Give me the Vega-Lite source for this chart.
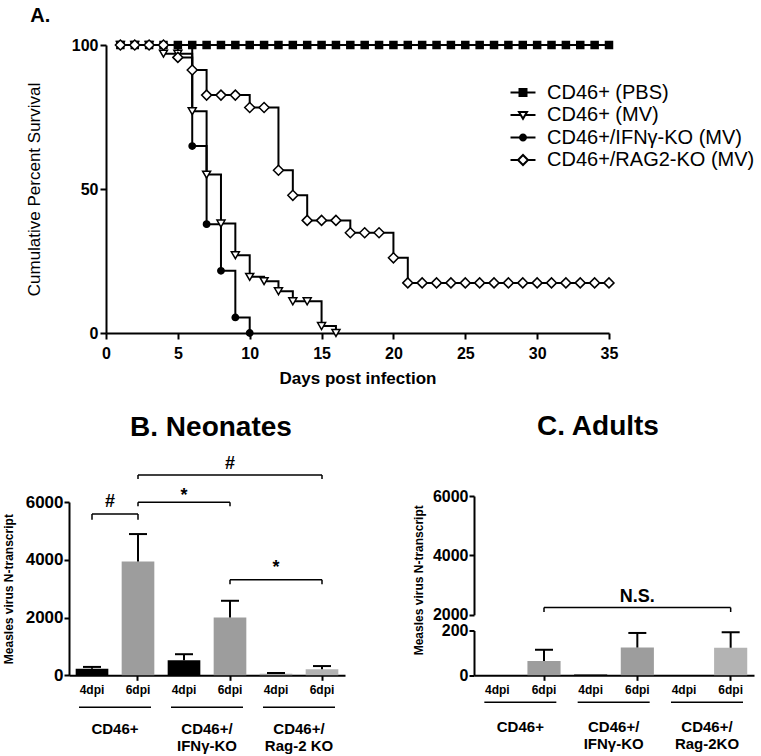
{
"$schema": "https://vega.github.io/schema/vega-lite/v6.json",
"padding": {"left": 2, "top": 6, "right": 0, "bottom": 0},
"config": {
  "font": "Liberation Sans",
  "view": {"stroke": null},
  "axis": {"domainColor": "black", "tickColor": "black", "labelColor": "black", "titleColor": "black", "grid": false, "domainWidth": 2, "tickWidth": 2, "zindex": 1},
  "title": {"color": "black"},
  "text": {"color": "black"}
},
"datasets": {
  "surv": [
    {"group":"CD46+ (PBS)","day":1,"pct":100},{"group":"CD46+ (PBS)","day":2,"pct":100},{"group":"CD46+ (PBS)","day":3,"pct":100},{"group":"CD46+ (PBS)","day":4,"pct":100},{"group":"CD46+ (PBS)","day":5,"pct":100},{"group":"CD46+ (PBS)","day":6,"pct":100},{"group":"CD46+ (PBS)","day":7,"pct":100},{"group":"CD46+ (PBS)","day":8,"pct":100},{"group":"CD46+ (PBS)","day":9,"pct":100},{"group":"CD46+ (PBS)","day":10,"pct":100},{"group":"CD46+ (PBS)","day":11,"pct":100},{"group":"CD46+ (PBS)","day":12,"pct":100},{"group":"CD46+ (PBS)","day":13,"pct":100},{"group":"CD46+ (PBS)","day":14,"pct":100},{"group":"CD46+ (PBS)","day":15,"pct":100},{"group":"CD46+ (PBS)","day":16,"pct":100},{"group":"CD46+ (PBS)","day":17,"pct":100},{"group":"CD46+ (PBS)","day":18,"pct":100},{"group":"CD46+ (PBS)","day":19,"pct":100},{"group":"CD46+ (PBS)","day":20,"pct":100},{"group":"CD46+ (PBS)","day":21,"pct":100},{"group":"CD46+ (PBS)","day":22,"pct":100},{"group":"CD46+ (PBS)","day":23,"pct":100},{"group":"CD46+ (PBS)","day":24,"pct":100},{"group":"CD46+ (PBS)","day":25,"pct":100},{"group":"CD46+ (PBS)","day":26,"pct":100},{"group":"CD46+ (PBS)","day":27,"pct":100},{"group":"CD46+ (PBS)","day":28,"pct":100},{"group":"CD46+ (PBS)","day":29,"pct":100},{"group":"CD46+ (PBS)","day":30,"pct":100},{"group":"CD46+ (PBS)","day":31,"pct":100},{"group":"CD46+ (PBS)","day":32,"pct":100},{"group":"CD46+ (PBS)","day":33,"pct":100},{"group":"CD46+ (PBS)","day":34,"pct":100},{"group":"CD46+ (PBS)","day":35,"pct":100},
    {"group":"CD46+ (MV)","day":1,"pct":100},{"group":"CD46+ (MV)","day":2,"pct":100},{"group":"CD46+ (MV)","day":3,"pct":100},{"group":"CD46+ (MV)","day":4,"pct":97},{"group":"CD46+ (MV)","day":5,"pct":97},{"group":"CD46+ (MV)","day":6,"pct":77},{"group":"CD46+ (MV)","day":7,"pct":55},{"group":"CD46+ (MV)","day":8,"pct":38},{"group":"CD46+ (MV)","day":9,"pct":27},{"group":"CD46+ (MV)","day":10,"pct":19.5},{"group":"CD46+ (MV)","day":11,"pct":18},{"group":"CD46+ (MV)","day":12,"pct":14.5},{"group":"CD46+ (MV)","day":13,"pct":11},{"group":"CD46+ (MV)","day":14,"pct":11},{"group":"CD46+ (MV)","day":15,"pct":2.4},{"group":"CD46+ (MV)","day":16,"pct":0},
    {"group":"CD46+/IFNγ-KO (MV)","day":1,"pct":100},{"group":"CD46+/IFNγ-KO (MV)","day":2,"pct":100},{"group":"CD46+/IFNγ-KO (MV)","day":3,"pct":100},{"group":"CD46+/IFNγ-KO (MV)","day":4,"pct":100},{"group":"CD46+/IFNγ-KO (MV)","day":5,"pct":100},{"group":"CD46+/IFNγ-KO (MV)","day":6,"pct":64.9},{"group":"CD46+/IFNγ-KO (MV)","day":7,"pct":37.8},{"group":"CD46+/IFNγ-KO (MV)","day":8,"pct":21.6},{"group":"CD46+/IFNγ-KO (MV)","day":9,"pct":5.4},{"group":"CD46+/IFNγ-KO (MV)","day":10,"pct":0},
    {"group":"CD46+/RAG2-KO (MV)","day":1,"pct":100},{"group":"CD46+/RAG2-KO (MV)","day":2,"pct":100},{"group":"CD46+/RAG2-KO (MV)","day":3,"pct":100},{"group":"CD46+/RAG2-KO (MV)","day":4,"pct":100},{"group":"CD46+/RAG2-KO (MV)","day":5,"pct":95.7},{"group":"CD46+/RAG2-KO (MV)","day":6,"pct":91.3},{"group":"CD46+/RAG2-KO (MV)","day":7,"pct":82.6},{"group":"CD46+/RAG2-KO (MV)","day":8,"pct":82.6},{"group":"CD46+/RAG2-KO (MV)","day":9,"pct":82.6},{"group":"CD46+/RAG2-KO (MV)","day":10,"pct":78.3},{"group":"CD46+/RAG2-KO (MV)","day":11,"pct":78.3},{"group":"CD46+/RAG2-KO (MV)","day":12,"pct":56.5},{"group":"CD46+/RAG2-KO (MV)","day":13,"pct":47.8},{"group":"CD46+/RAG2-KO (MV)","day":14,"pct":39.1},{"group":"CD46+/RAG2-KO (MV)","day":15,"pct":39.1},{"group":"CD46+/RAG2-KO (MV)","day":16,"pct":39.1},{"group":"CD46+/RAG2-KO (MV)","day":17,"pct":34.8},{"group":"CD46+/RAG2-KO (MV)","day":18,"pct":34.8},{"group":"CD46+/RAG2-KO (MV)","day":19,"pct":34.8},{"group":"CD46+/RAG2-KO (MV)","day":20,"pct":26.1},{"group":"CD46+/RAG2-KO (MV)","day":21,"pct":17.4},{"group":"CD46+/RAG2-KO (MV)","day":22,"pct":17.4},{"group":"CD46+/RAG2-KO (MV)","day":23,"pct":17.4},{"group":"CD46+/RAG2-KO (MV)","day":24,"pct":17.4},{"group":"CD46+/RAG2-KO (MV)","day":25,"pct":17.4},{"group":"CD46+/RAG2-KO (MV)","day":26,"pct":17.4},{"group":"CD46+/RAG2-KO (MV)","day":27,"pct":17.4},{"group":"CD46+/RAG2-KO (MV)","day":28,"pct":17.4},{"group":"CD46+/RAG2-KO (MV)","day":29,"pct":17.4},{"group":"CD46+/RAG2-KO (MV)","day":30,"pct":17.4},{"group":"CD46+/RAG2-KO (MV)","day":31,"pct":17.4},{"group":"CD46+/RAG2-KO (MV)","day":32,"pct":17.4},{"group":"CD46+/RAG2-KO (MV)","day":33,"pct":17.4},{"group":"CD46+/RAG2-KO (MV)","day":34,"pct":17.4},{"group":"CD46+/RAG2-KO (MV)","day":35,"pct":17.4}
  ],
  "neo": [
    {"key":"CD46+|4dpi","mean":230,"upper":290},
    {"key":"CD46+|6dpi","mean":3940,"upper":4890},
    {"key":"IFN|4dpi","mean":520,"upper":730},
    {"key":"IFN|6dpi","mean":2000,"upper":2580},
    {"key":"Rag|4dpi","mean":50,"upper":80},
    {"key":"Rag|6dpi","mean":210,"upper":320}
  ],
  "neoBrackets": [
    {"from":"CD46+|4dpi","to":"CD46+|6dpi","yLine":5583,"yTick":5386,"label":"#","labelAfter":"CD46+|4dpi","labelY":5844},
    {"from":"CD46+|6dpi","to":"IFN|6dpi","yLine":5989,"yTick":5850,"label":"*","labelAt":"IFN|4dpi","labelY":6034},
    {"from":"CD46+|6dpi","to":"Rag|6dpi","yLine":6936,"yTick":6797,"label":"#","labelAt":"IFN|6dpi","labelY":7127},
    {"from":"IFN|6dpi","to":"Rag|6dpi","yLine":3305,"yTick":3156,"label":"*","labelAt":"Rag|4dpi","labelY":3537}
  ],
  "neoGroups": [
    {"key":"CD46+|4dpi","label":"CD46+"},
    {"key":"IFN|4dpi","label":"CD46+/\nIFNγ-KO"},
    {"key":"Rag|4dpi","label":"CD46+/\nRag-2 KO"}
  ],
  "adult": [
    {"key":"CD46+|4dpi","mean":0,"upper":null},
    {"key":"CD46+|6dpi","mean":64,"upper":114},
    {"key":"IFN|4dpi","mean":4,"upper":null},
    {"key":"IFN|6dpi","mean":124,"upper":189},
    {"key":"Rag|4dpi","mean":0,"upper":null},
    {"key":"Rag|6dpi","mean":123,"upper":192}
  ],
  "adultBrackets": [
    {"from":"CD46+|6dpi","to":"Rag|6dpi","yLine":2242,"yTick":2094,"label":"N.S.","labelAt":"IFN|6dpi","labelY":2421}
  ],
  "adultGroups": [
    {"key":"CD46+|4dpi","label":"CD46+"},
    {"key":"IFN|4dpi","label":"CD46+/\nIFNγ-KO"},
    {"key":"Rag|4dpi","label":"CD46+/\nRag-2KO"}
  ],
  "empty": []
},
"spacing": 27,
"vconcat": [
  {
    "bounds": "flush",
    "spacing": 36,
    "hconcat": [
      {"width": 1, "height": 1, "data": {"name": "empty"}, "mark": "point", "encoding": {}},
      {
        "title": {"text": "A.", "anchor": "start", "fontSize": 20, "fontWeight": "bold", "offset": 11, "dx": 5},
        "width": 503,
        "height": 288,
        "layer": [
          {
            "data": {"name": "surv"},
            "mark": {"type": "line", "interpolate": "step-after", "color": "black", "strokeWidth": 2},
            "encoding": {
              "x": {"field": "day", "type": "quantitative", "scale": {"domain": [0, 35]},
                    "axis": {"values": [0,5,10,15,20,25,30,35], "title": "Days post infection", "titleFontSize": 17, "titleFontWeight": "bold", "titlePadding": 9, "labelFontSize": 16, "labelFontWeight": "bold", "labelPadding": 6, "tickSize": 6, "labelFlush": false}},
              "y": {"field": "pct", "type": "quantitative", "scale": {"domain": [0, 100]},
                    "axis": {"values": [0,50,100], "title": "Cumulative Percent Survival", "titleFontSize": 17, "titleFontWeight": "normal", "titlePadding": 28, "labelFontSize": 16, "labelFontWeight": "bold", "labelPadding": 2, "tickSize": 6}},
              "detail": {"field": "group"}
            }
          },
          {
            "data": {"name": "surv"},
            "mark": {"type": "point", "opacity": 1, "stroke": "black", "strokeWidth": 1.5},
            "encoding": {
              "x": {"field": "day", "type": "quantitative"},
              "y": {"field": "pct", "type": "quantitative"},
              "shape": {"field": "group", "type": "nominal", "scale": {"domain": ["CD46+ (PBS)","CD46+ (MV)","CD46+/IFNγ-KO (MV)","CD46+/RAG2-KO (MV)"], "range": ["square","triangle-down","circle","diamond"]}, "legend": null},
              "fill": {"field": "group", "type": "nominal", "scale": {"domain": ["CD46+ (PBS)","CD46+ (MV)","CD46+/IFNγ-KO (MV)","CD46+/RAG2-KO (MV)"], "range": ["black","white","black","white"]}, "legend": null},
              "size": {"field": "group", "type": "nominal", "scale": {"type": "ordinal", "domain": ["CD46+ (PBS)","CD46+ (MV)","CD46+/IFNγ-KO (MV)","CD46+/RAG2-KO (MV)"], "range": [49, 64, 40, 100]}, "legend": null}
            }
          },
          {
            "data": {"name": "surv"},
            "transform": [{"filter": "false"}],
            "mark": {"type": "point", "opacity": 1, "strokeWidth": 2},
            "encoding": {
              "x": {"field": "day", "type": "quantitative"},
              "y": {"field": "pct", "type": "quantitative"},
              "shape": {"field": "group", "type": "nominal",
                        "scale": {"domain": ["CD46+ (PBS)","CD46+ (MV)","CD46+/IFNγ-KO (MV)","CD46+/RAG2-KO (MV)"],
                                  "range": ["M-2,0H2M-0.56,-0.56H0.56V0.56H-0.56Z","M-2,0H-0.5M0.5,0H2M-0.64,-0.5H0.64L0,0.6Z","M-2,0H2M0.48,0A0.48,0.48,0,1,1,-0.48,0A0.48,0.48,0,1,1,0.48,0Z","M-2,0H-0.8M0.8,0H2M-0.8,0L0,-0.8L0.8,0L0,0.8Z"]},
                        "legend": {"orient": "none", "legendX": 407, "legendY": 37.5, "title": null, "labelFontSize": 20, "labelColor": "black", "symbolSize": 156, "symbolStrokeWidth": 2, "symbolStrokeColor": "black", "labelOffset": 14, "rowPadding": 2.5, "padding": 0, "labelLimit": 400,
                                   "encode": {"symbols": {"update": {"stroke": {"value": "black"}, "strokeWidth": {"value": 2}, "opacity": {"value": 1}}}}}},
              "fill": {"field": "group", "type": "nominal",
                       "scale": {"domain": ["CD46+ (PBS)","CD46+ (MV)","CD46+/IFNγ-KO (MV)","CD46+/RAG2-KO (MV)"], "range": ["black","white","black","white"]},
                       "legend": {"orient": "none", "legendX": 407, "legendY": 37.5, "title": null, "labelFontSize": 20, "labelColor": "black", "symbolSize": 156, "symbolStrokeWidth": 2, "symbolStrokeColor": "black", "labelOffset": 14, "rowPadding": 2.5, "padding": 0, "labelLimit": 400,
                                  "encode": {"symbols": {"update": {"stroke": {"value": "black"}, "strokeWidth": {"value": 2}, "opacity": {"value": 1}}}}}},
              "stroke": {"field": "group", "type": "nominal",
                         "scale": {"domain": ["CD46+ (PBS)","CD46+ (MV)","CD46+/IFNγ-KO (MV)","CD46+/RAG2-KO (MV)"], "range": ["black","black","black","black"]},
                         "legend": {"orient": "none", "legendX": 407, "legendY": 37.5, "title": null, "labelFontSize": 20, "labelColor": "black", "symbolSize": 156, "symbolStrokeWidth": 2, "symbolStrokeColor": "black", "labelOffset": 14, "rowPadding": 2.5, "padding": 0, "labelLimit": 400,
                                    "encode": {"symbols": {"update": {"stroke": {"value": "black"}, "strokeWidth": {"value": 2}, "opacity": {"value": 1}}}}}}
            }
          }
        ],
        "resolve": {"scale": {"shape": "independent", "fill": "independent", "stroke": "independent"}}
      }
    ]
  },
  {
    "spacing": 67,
    "hconcat": [
      {
        "bounds": "flush",
        "spacing": 5,
        "vconcat": [
          {"width": 1, "height": 1, "data": {"name": "empty"}, "mark": "point", "encoding": {}},
          {
            "title": {"text": "B. Neonates", "fontSize": 28, "fontWeight": "bold", "frame": "group", "dx": 4, "offset": 13},
            "width": 276,
            "height": 173.3,
            "layer": [
              {
                "data": {"name": "neo"},
                "mark": {"type": "bar"},
                "encoding": {
                  "x": {"field": "key", "type": "nominal", "sort": null,
                        "scale": {"domain": ["CD46+|4dpi","CD46+|6dpi","IFN|4dpi","IFN|6dpi","Rag|4dpi","Rag|6dpi"], "paddingInner": 0.29, "paddingOuter": 0.145},
                        "axis": {"title": null, "labelExpr": "split(datum.value, '|')[1]", "labelAngle": 0, "labelFontSize": 12, "labelFontWeight": "bold", "labelPadding": 4, "tickSize": 5,
                                 "tickColor": {"condition": {"test": "indexof(datum.value, '6dpi') >= 0", "value": "black"}, "value": "transparent"}}},
                  "y": {"field": "mean", "type": "quantitative", "scale": {"domain": [0, 6000]},
                        "axis": {"values": [0,2000,4000,6000], "format": "d", "title": "Measles virus N-transcript", "titleFontSize": 12, "titleFontWeight": "bold", "titlePadding": 10, "labelFontSize": 17, "labelFontWeight": "bold", "labelPadding": 1, "tickSize": 5}},
                  "color": {"field": "key", "type": "nominal", "scale": {"domain": ["CD46+|4dpi","CD46+|6dpi","IFN|4dpi","IFN|6dpi","Rag|4dpi","Rag|6dpi"], "range": ["#000000","#9d9d9d","#000000","#9d9d9d","#a8a8a8","#b3b3b3"]}, "legend": null}
                }
              },
              {
                "data": {"name": "neo"},
                "mark": {"type": "rule", "color": "black", "strokeWidth": 2},
                "encoding": {
                  "x": {"field": "key", "type": "nominal"},
                  "y": {"field": "mean", "type": "quantitative"},
                  "y2": {"field": "upper"}
                }
              },
              {
                "data": {"name": "neo"},
                "mark": {"type": "tick", "orient": "horizontal", "color": "black", "size": 18, "thickness": 2, "opacity": 1},
                "encoding": {
                  "x": {"field": "key", "type": "nominal"},
                  "y": {"field": "upper", "type": "quantitative"}
                }
              },
              {
                "data": {"name": "neoBrackets"},
                "mark": {"type": "rule", "color": "black", "strokeWidth": 1.5},
                "encoding": {
                  "x": {"field": "from", "type": "nominal"},
                  "x2": {"field": "to"},
                  "y": {"field": "yLine", "type": "quantitative"}
                }
              },
              {
                "data": {"name": "neoBrackets"},
                "transform": [{"fold": ["from", "to"], "as": ["end", "endKey"]}],
                "mark": {"type": "rule", "color": "black", "strokeWidth": 1.5},
                "encoding": {
                  "x": {"field": "endKey", "type": "nominal"},
                  "y": {"field": "yLine", "type": "quantitative"},
                  "y2": {"field": "yTick"}
                }
              },
              {
                "data": {"name": "neoBrackets"},
                "transform": [{"filter": "isValid(datum.labelAt)"}],
                "mark": {"type": "text", "fontSize": 18, "fontWeight": "bold", "baseline": "alphabetic"},
                "encoding": {
                  "x": {"field": "labelAt", "type": "nominal"},
                  "y": {"field": "labelY", "type": "quantitative"},
                  "text": {"field": "label"}
                }
              },
              {
                "data": {"name": "neoBrackets"},
                "transform": [{"filter": "isValid(datum.labelAfter)"}],
                "mark": {"type": "text", "fontSize": 18, "fontWeight": "bold", "baseline": "alphabetic", "dx": 18},
                "encoding": {
                  "x": {"field": "labelAfter", "type": "nominal"},
                  "y": {"field": "labelY", "type": "quantitative"},
                  "text": {"field": "label"}
                }
              },
              {
                "data": {"name": "neoGroups"},
                "mark": {"type": "tick", "orient": "horizontal", "color": "black", "size": 72, "thickness": 1.5, "opacity": 1, "xOffset": 23, "yOffset": 32},
                "encoding": {
                  "x": {"field": "key", "type": "nominal"},
                  "y": {"datum": 0, "type": "quantitative"}
                }
              },
              {
                "data": {"name": "neoGroups"},
                "mark": {"type": "text", "fontSize": 15, "fontWeight": "bold", "baseline": "top", "lineBreak": "\n", "lineHeight": 17, "dx": 23, "dy": 47},
                "encoding": {
                  "x": {"field": "key", "type": "nominal"},
                  "y": {"datum": 0, "type": "quantitative"},
                  "text": {"field": "label"}
                }
              }
            ]
          }
        ]
      },
      {
        "spacing": 15.5,
        "bounds": "flush",
        "resolve": {"scale": {"x": "shared"}},
        "vconcat": [
          {
            "title": {"text": "C. Adults", "fontSize": 28, "fontWeight": "bold", "frame": "group", "dx": -16, "offset": 47},
            "width": 280,
            "height": 118.8,
            "layer": [
              {
                "data": {"name": "adultBrackets"},
                "mark": {"type": "rule", "color": "black", "strokeWidth": 1.5},
                "encoding": {
                  "x": {"field": "from", "type": "nominal",
                        "scale": {"domain": ["CD46+|4dpi","CD46+|6dpi","IFN|4dpi","IFN|6dpi","Rag|4dpi","Rag|6dpi"], "paddingInner": 0.29, "paddingOuter": 0.145},
                        "axis": null},
                  "x2": {"field": "to"},
                  "y": {"field": "yLine", "type": "quantitative", "scale": {"domain": [2000, 6000]},
                        "axis": {"values": [2000,4000,6000], "format": "d", "title": "Measles virus N-transcript", "titleY": 83.8, "titleFontSize": 12, "titleFontWeight": "bold", "titlePadding": 7, "labelFontSize": 16, "labelFontWeight": "bold", "labelPadding": 1, "tickSize": 5}}
                }
              },
              {
                "data": {"name": "adultBrackets"},
                "transform": [{"fold": ["from", "to"], "as": ["end", "endKey"]}],
                "mark": {"type": "rule", "color": "black", "strokeWidth": 1.5},
                "encoding": {
                  "x": {"field": "endKey", "type": "nominal"},
                  "y": {"field": "yLine", "type": "quantitative"},
                  "y2": {"field": "yTick"}
                }
              },
              {
                "data": {"name": "adultBrackets"},
                "mark": {"type": "text", "fontSize": 18, "fontWeight": "bold", "baseline": "alphabetic"},
                "encoding": {
                  "x": {"field": "labelAt", "type": "nominal"},
                  "y": {"field": "labelY", "type": "quantitative"},
                  "text": {"field": "label"}
                }
              }
            ]
          },
          {
            "width": 280,
            "height": 44.8,
            "layer": [
              {
                "data": {"name": "adult"},
                "mark": {"type": "bar"},
                "encoding": {
                  "x": {"field": "key", "type": "nominal", "sort": null,
                        "scale": {"domain": ["CD46+|4dpi","CD46+|6dpi","IFN|4dpi","IFN|6dpi","Rag|4dpi","Rag|6dpi"], "paddingInner": 0.29, "paddingOuter": 0.145},
                        "axis": {"title": null, "labelExpr": "split(datum.value, '|')[1]", "labelAngle": 0, "labelFontSize": 12, "labelFontWeight": "bold", "labelPadding": 4, "tickSize": 5,
                                 "tickColor": {"condition": {"test": "indexof(datum.value, '6dpi') >= 0", "value": "black"}, "value": "transparent"}}},
                  "y": {"field": "mean", "type": "quantitative", "scale": {"domain": [0, 200]},
                        "axis": {"values": [0,200], "format": "d", "title": null, "labelFontSize": 16, "labelFontWeight": "bold", "labelPadding": 1, "tickSize": 5}},
                  "color": {"field": "key", "type": "nominal", "scale": {"domain": ["CD46+|4dpi","CD46+|6dpi","IFN|4dpi","IFN|6dpi","Rag|4dpi","Rag|6dpi"], "range": ["#000000","#939393","#7a7a7a","#8f8f8f","#000000","#ababab"]}, "legend": null}
                }
              },
              {
                "data": {"name": "adult"},
                "transform": [{"filter": "isValid(datum.upper)"}],
                "mark": {"type": "rule", "color": "black", "strokeWidth": 2},
                "encoding": {
                  "x": {"field": "key", "type": "nominal"},
                  "y": {"field": "mean", "type": "quantitative"},
                  "y2": {"field": "upper"}
                }
              },
              {
                "data": {"name": "adult"},
                "transform": [{"filter": "isValid(datum.upper)"}],
                "mark": {"type": "tick", "orient": "horizontal", "color": "black", "size": 18, "thickness": 2, "opacity": 1},
                "encoding": {
                  "x": {"field": "key", "type": "nominal"},
                  "y": {"field": "upper", "type": "quantitative"}
                }
              },
              {
                "data": {"name": "adultGroups"},
                "mark": {"type": "tick", "orient": "horizontal", "color": "black", "size": 72, "thickness": 1.5, "opacity": 1, "xOffset": 23, "yOffset": 27},
                "encoding": {
                  "x": {"field": "key", "type": "nominal"},
                  "y": {"datum": 0, "type": "quantitative"}
                }
              },
              {
                "data": {"name": "adultGroups"},
                "mark": {"type": "text", "fontSize": 15, "fontWeight": "bold", "baseline": "top", "lineBreak": "\n", "lineHeight": 17, "dx": 23, "dy": 45},
                "encoding": {
                  "x": {"field": "key", "type": "nominal"},
                  "y": {"datum": 0, "type": "quantitative"},
                  "text": {"field": "label"}
                }
              }
            ]
          }
        ]
      }
    ]
  }
]
}
